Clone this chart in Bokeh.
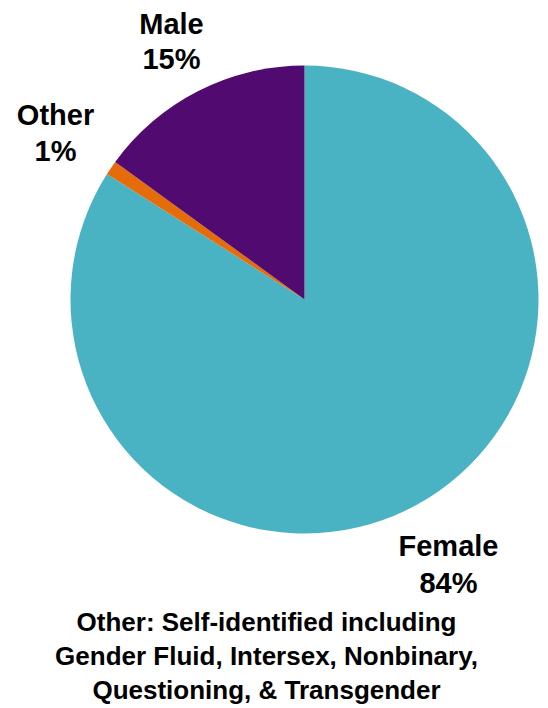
import math
from bokeh.plotting import figure
from bokeh.models import Range1d, ColumnDataSource
from bokeh.core.properties import value
from bokeh.embed import file_html
from bokeh.resources import INLINE

# ---- data ----
categories = ["Female", "Other", "Male"]
percents = [84, 1, 15]
colors = ["#4AB3C3", "#E46C0A", "#500A70"]
label_names = ["Female", "Other", "Male"]
label_values = ["84%", "1%", "15%"]
footnote = [
    "Other: Self-identified including",
    "Gender Fluid, Intersex, Nonbinary,",
    "Questioning, & Transgender",
]

# ---- layout (screen px -> data units, 1:1) ----
W, H = 548, 708
def sx(x):
    return x
def sy(y):
    return H - y

cx, cy, r = sx(304), sy(299), 234

total = sum(percents)
starts, ends = [], []
acc = 0.0
for pct in percents:
    a0 = math.pi / 2 - 2 * math.pi * acc / total
    acc += pct
    a1 = math.pi / 2 - 2 * math.pi * acc / total
    starts.append(a0)
    ends.append(a1)

src = ColumnDataSource(dict(cat=categories, start=starts, end=ends, color=colors,
                            x=[cx] * 3, y=[cy] * 3))

p = figure(width=W, height=H, output_backend="svg", toolbar_location=None,
           x_range=Range1d(0, W), y_range=Range1d(0, H), min_border=0)
p.axis.visible = False
p.grid.visible = False
p.outline_line_color = None
p.background_fill_color = "white"

p.wedge(x="x", y="y", radius=r, start_angle="start", end_angle="end",
        direction="clock", fill_color="color", line_color=None, source=src)

# label anchor positions (screen px): center x, name baseline, value baseline
label_pos = {"Female": (448, 545, 582), "Other": (55, 114, 150), "Male": (171, 23, 58)}
lx, ly, lt = [], [], []
for name, val in zip(label_names, label_values):
    x, y1, y2 = label_pos[name]
    lx += [sx(x), sx(x)]
    ly += [sy(y1), sy(y2)]
    lt += [name, val]
p.text(x=lx, y=ly, text=lt, text_font=value("Liberation Sans"), text_font_style="bold",
       text_font_size="29px", text_align="center", text_baseline="alphabetic",
       text_color="black")

fy = [621, 655, 689]
p.text(x=[sx(266)] * 3, y=[sy(v) for v in fy], text=footnote,
       text_font=value("Liberation Sans"), text_font_style="bold",
       text_font_size="26px", text_align="center", text_baseline="alphabetic",
       text_color="black")

open("out.html", "w").write(file_html(p, INLINE))
